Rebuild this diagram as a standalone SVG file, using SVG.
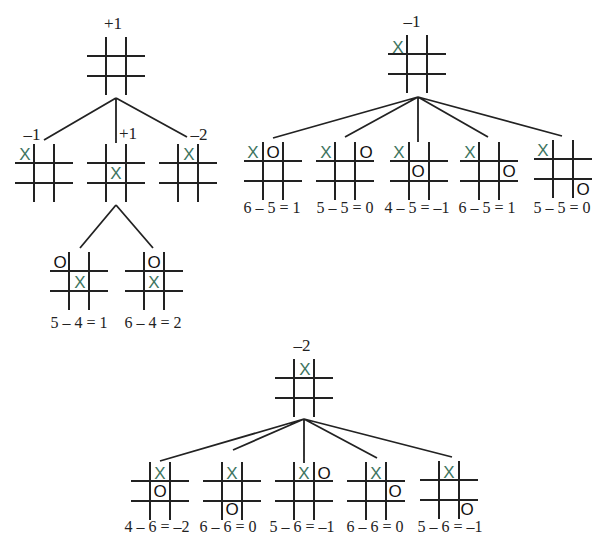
<svg xmlns="http://www.w3.org/2000/svg" xmlns:xlink="http://www.w3.org/1999/xlink" width="605" height="547" viewBox="0 0 605 547">
<style>
.g{fill:none;stroke:#222;stroke-width:2}
.c{stroke:#222;stroke-width:1.8;fill:none}
.x{font-family:"Liberation Sans",Arial,sans-serif;font-size:17px;fill:#3d7560;text-anchor:middle}
.o{font-family:"Liberation Sans",Arial,sans-serif;font-size:17px;fill:#111;text-anchor:middle}
.l{font-family:"Liberation Serif","Times New Roman",serif;font-size:16px;fill:#222;text-anchor:middle}
.t{font-family:"Liberation Serif","Times New Roman",serif;font-size:17px;fill:#222;text-anchor:middle}
</style>
<defs>
<path id="grid" class="g" d="M-10,-29V29M10,-29V29M-29,-10H29M-29,10H29"/>
</defs>
<rect width="605" height="547" fill="#fff"/>
<g id="connectors">
<path class="c" d="M116,98L44,140M116,98L116,143M116,98L187,137"/>
<path class="c" d="M116,205L80,248M116,205L153,248"/>
<path class="c" d="M418,97L273,138M418,97L345,137M418,97L418,142M418,97L488,137M418,97L562,136"/>
<path class="c" d="M304,419L160,461M304,419L233,450M304,419L304,463M304,419L377,458M304,419L452,457"/>
</g>
<g id="a-root" transform="translate(116,66)"><use href="#grid"/><text class="t" x="-3" y="-37">+1</text></g>
<g id="a1" transform="translate(44,173)"><use href="#grid"/><text class="x" x="-19" y="-13">X</text><text class="t" x="-12" y="-33">–1</text></g>
<g id="a2" transform="translate(116,173)"><use href="#grid"/><text class="x" x="0" y="6">X</text><text class="t" x="12" y="-34">+1</text></g>
<g id="a3" transform="translate(188,173)"><use href="#grid"/><text class="x" x="1" y="-13">X</text><text class="t" x="11" y="-33">–2</text></g>
<g id="a21" transform="translate(79,281)"><use href="#grid"/><text class="o" x="-19" y="-13">O</text><text class="x" x="1" y="7">X</text><text class="l" x="0" y="47">5 – 4 = 1</text></g>
<g id="a22" transform="translate(154,281)"><use href="#grid"/><text class="o" x="0" y="-13">O</text><text class="x" x="0" y="7">X</text><text class="l" x="-1" y="47">6 – 4 = 2</text></g>
<g id="b-root" transform="translate(417,64)"><use href="#grid"/><text class="x" x="-19" y="-11">X</text><text class="t" x="-5" y="-37">–1</text></g>
<g id="b1" transform="translate(273,171)"><use href="#grid"/><text class="x" x="-20" y="-13">X</text><text class="o" x="0" y="-13">O</text><text class="l" x="-1" y="42">6 – 5 = 1</text></g>
<g id="b2" transform="translate(345,171)"><use href="#grid"/><text class="x" x="-19" y="-13">X</text><text class="o" x="21" y="-13">O</text><text class="l" x="0" y="42">5 – 5 = 0</text></g>
<g id="b3" transform="translate(419,171)"><use href="#grid"/><text class="x" x="-20" y="-13">X</text><text class="o" x="-1" y="6">O</text><text class="l" x="-2" y="42">4 – 5 = –1</text></g>
<g id="b4" transform="translate(489,171)"><use href="#grid"/><text class="x" x="-19" y="-13">X</text><text class="o" x="20" y="6">O</text><text class="l" x="-2" y="42">6 – 5 = 1</text></g>
<g id="b5" transform="translate(563,169)"><use href="#grid"/><text class="x" x="-20" y="-13">X</text><text class="o" x="20" y="26">O</text><text class="l" x="-1" y="44">5 – 5 = 0</text></g>
<g id="c-root" transform="translate(304,388)"><use href="#grid"/><text class="x" x="1" y="-13">X</text><text class="t" x="-2" y="-37">–2</text></g>
<g id="c1" transform="translate(160,491)"><use href="#grid"/><text class="x" x="0" y="-12">X</text><text class="o" x="0" y="6">O</text><text class="l" x="-3" y="41">4 – 6 = –2</text></g>
<g id="c2" transform="translate(232,491)"><use href="#grid"/><text class="x" x="0" y="-12">X</text><text class="o" x="0" y="24">O</text><text class="l" x="-4" y="41">6 – 6 = 0</text></g>
<g id="c3" transform="translate(304,491)"><use href="#grid"/><text class="x" x="0" y="-12">X</text><text class="o" x="20" y="-12">O</text><text class="l" x="-2" y="41">5 – 6 = –1</text></g>
<g id="c4" transform="translate(376,491)"><use href="#grid"/><text class="x" x="0" y="-12">X</text><text class="o" x="19" y="6">O</text><text class="l" x="-1" y="41">6 – 6 = 0</text></g>
<g id="c5" transform="translate(449,490)"><use href="#grid"/><text class="x" x="0" y="-12">X</text><text class="o" x="18" y="25">O</text><text class="l" x="1" y="42">5 – 6 = –1</text></g>
</svg>
